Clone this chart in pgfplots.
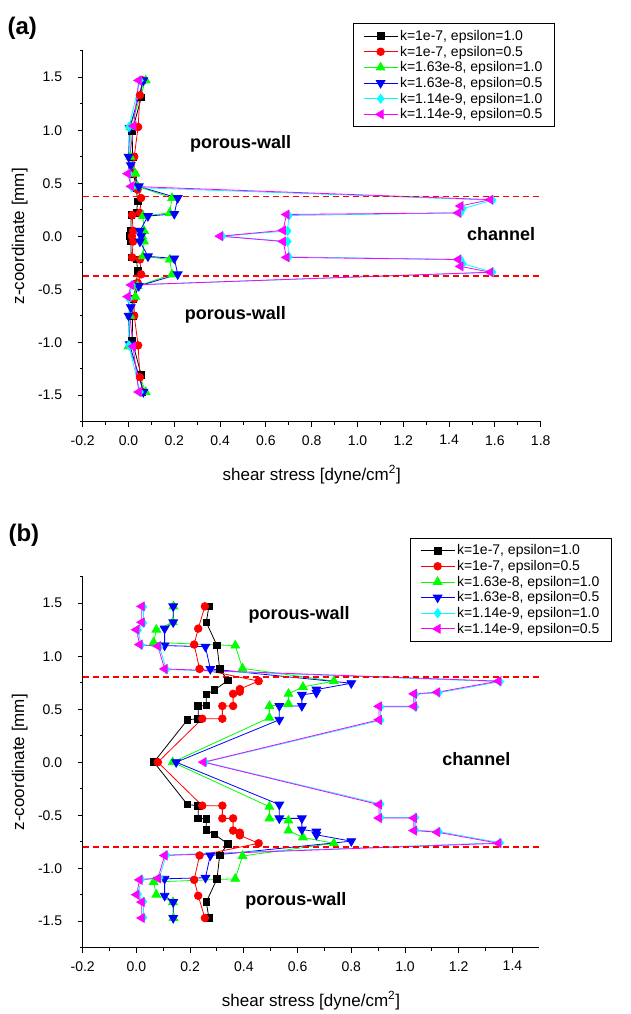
\documentclass[border=0pt]{standalone}
\usepackage{fontspec}
\setmainfont{Liberation Sans}
\usepackage{pgfplots}
\pgfplotsset{compat=1.18}
\definecolor{mgreen}{rgb}{0,1,0}
\definecolor{mblue}{rgb}{0,0,1}
\definecolor{mcyan}{rgb}{0,1,1}
\definecolor{mmag}{rgb}{1,0,1}
\definecolor{mred}{rgb}{1,0,0}
\pgfplotsset{
  myaxis/.style={
    scale only axis,
    axis lines=left,
    axis line style={-, line width=1.2pt},
    tick align=outside,
    major tick length=5pt, minor tick length=3pt,
    tick style={line width=1pt, black},
    ymin=-1.75, ymax=1.75,
    ytick={-1.5,-1,...,1.5},
    minor ytick={-1.75,-1.25,...,1.75},
    minor x tick num=1,
    /pgf/number format/assume math mode=true,
    /pgf/number format/fixed, /pgf/number format/fixed zerofill, /pgf/number format/precision=1,
    tick label style={font=\fontsize{14}{15}\selectfont},
    yticklabel style={xshift=-12pt},
    xticklabel style={yshift=-5pt},
    xlabel={shear stress [dyne/cm\textsuperscript{2}]},
    ylabel={z-coordinate [mm]},
    label style={font=\fontsize{17}{19}\selectfont},
    x label style={at={(axis description cs:0.5,0)}, anchor=center, yshift=-53pt},
    y label style={at={(axis description cs:0,0.5)}, anchor=center, yshift=63pt},
    legend cell align=left,
    legend style={font=\fontsize{14}{17.5}\selectfont, draw=black, line width=0.9pt, inner xsep=10pt, inner ysep=4.5pt},
    legend image code/.code={\draw[mark repeat=2,mark phase=2] plot coordinates {(0pt,0pt) (17pt,0pt) (34pt,0pt)};},
    clip=false,
  },
  refline/.style={draw=mred, color=mred, line width=1.8pt, dash pattern=on 6pt off 4pt, forget plot, mark=none},
  s1/.style={black, line width=0.8pt, mark=square*, mark size=3.3pt, mark options={solid, fill=black}},
  s2/.style={mred, line width=0.8pt, mark=*, mark size=3.8pt, mark options={solid, fill=mred}},
  s3/.style={mgreen, line width=0.8pt, mark=triangle*, mark size=5pt, mark options={solid, fill=mgreen}},
  s4/.style={mblue, line width=0.8pt, mark=triangle*, mark size=5pt, mark options={solid, fill=mblue, rotate=180}},
  s5/.style={mcyan, line width=0.8pt, mark=diamond*, mark size=4.5pt, mark options={solid, fill=mcyan}},
  s6/.style={mmag, line width=0.8pt, mark=triangle*, mark size=5pt, mark options={solid, fill=mmag, rotate=90}},
}
\begin{document}
\begin{tikzpicture}
\path[use as bounding box] (0pt,0pt) rectangle (630pt,1014pt);
\node[anchor=west, font=\bfseries\fontsize{24}{26}\selectfont] at (4pt,985.5pt) {(a)};
\node[anchor=west, font=\bfseries\fontsize{24}{26}\selectfont] at (5pt,479pt) {(b)};
% ---------------- panel (a)
\begin{axis}[myaxis, at={(82.7pt,592.3pt)}, anchor=south west, width=458pt, height=371pt,
  xmin=-0.2, xmax=1.8, xtick={-0.2,0,...,1.8},
  legend style={at={(1.031,0.794)}, anchor=south east}]
\addplot[s1] coordinates {(0.060,1.47) (0.056,1.31) (0.016,0.99) (0.018,0.75) (0.022,0.59) (0.034,0.45) (0.040,0.33) (0.035,0.22) (0.012,0.20) (0.010,0.05) (0.005,0.0) (0.010,-0.05) (0.012,-0.20) (0.035,-0.22) (0.040,-0.33) (0.034,-0.45) (0.022,-0.59) (0.018,-0.75) (0.016,-0.99) (0.056,-1.31) (0.060,-1.47)};
\addlegendentry{k=1e-7, epsilon=1.0}
\addplot[s2] coordinates {(0.062,1.47) (0.050,1.33) (0.042,1.03) (0.025,0.75) (0.025,0.59) (0.040,0.44) (0.055,0.36) (0.050,0.22) (0.016,0.20) (0.020,0.05) (0.015,0.0) (0.020,-0.05) (0.016,-0.20) (0.050,-0.22) (0.055,-0.36) (0.040,-0.44) (0.025,-0.59) (0.025,-0.75) (0.042,-1.03) (0.050,-1.33) (0.062,-1.47)};
\addlegendentry{k=1e-7, epsilon=0.5}
\addplot[s3] coordinates {(0.075,1.47) (0.008,1.03) (0.008,0.75) (0.030,0.59) (0.040,0.47) (0.190,0.36) (0.180,0.22) (0.063,0.19) (0.068,0.05) (0.060,0.0) (0.068,-0.05) (0.063,-0.19) (0.180,-0.22) (0.190,-0.36) (0.040,-0.47) (0.030,-0.57) (0.008,-0.75) (0.000,-1.04) (0.075,-1.47)};
\addlegendentry{k=1.63e-8, epsilon=1.0}
\addplot[s4] coordinates {(0.065,1.47) (0.005,1.02) (0.000,0.75) (0.010,0.67) (0.045,0.47) (0.215,0.36) (0.200,0.21) (0.085,0.19) (0.050,0.05) (0.055,0.0) (0.050,-0.05) (0.085,-0.19) (0.200,-0.21) (0.215,-0.36) (0.045,-0.47) (0.010,-0.67) (0.000,-0.75) (0.005,-1.02) (0.065,-1.47)};
\addlegendentry{k=1.63e-8, epsilon=0.5}
\addplot[s5] coordinates {(0.050,1.47) (0.002,1.03) (0.002,0.59) (0.015,0.46) (1.590,0.34) (1.460,0.26) (1.450,0.22) (0.700,0.195) (0.695,0.05) (0.410,0.0) (0.695,-0.05) (0.700,-0.195) (1.450,-0.22) (1.460,-0.26) (1.590,-0.34) (0.015,-0.46) (0.002,-0.59) (0.002,-1.03) (0.050,-1.47)};
\addlegendentry{k=1.14e-9, epsilon=1.0}
\addplot[s6] coordinates {(0.045,1.47) (0.022,1.04) (-0.003,0.59) (0.012,0.47) (1.580,0.345) (1.450,0.285) (1.440,0.22) (0.690,0.205) (0.675,0.055) (0.400,0.0) (0.675,-0.05) (0.690,-0.20) (1.440,-0.22) (1.450,-0.285) (1.580,-0.34) (0.012,-0.46) (-0.003,-0.57) (0.020,-1.04) (0.045,-1.47)};
\addlegendentry{k=1.14e-9, epsilon=0.5}
\addplot[refline] coordinates {(-0.2,0.375) (1.8,0.375)};
\addplot[refline] coordinates {(-0.2,-0.375) (1.8,-0.375)};
\node[font=\bfseries\fontsize{18}{20}\selectfont] at (axis cs:0.49,0.875) {porous-wall};
\node[font=\bfseries\fontsize{18}{20}\selectfont] at (axis cs:0.467,-0.745) {porous-wall};
\node[font=\bfseries\fontsize{18}{20}\selectfont] at (axis cs:1.627,0.016) {channel};
\end{axis}
% ---------------- panel (b)
\begin{axis}[myaxis, at={(82.7pt,66.3pt)}, anchor=south west, width=456.6pt, height=371pt,
  xmin=-0.2, xmax=1.5, xtick={-0.2,0,...,1.4},
  legend style={at={(1.159,0.825)}, anchor=south east}]
\addplot[s1] coordinates {(0.27,1.47) (0.26,1.32) (0.30,1.10) (0.31,0.88) (0.34,0.77) (0.29,0.68) (0.26,0.64) (0.26,0.535) (0.23,0.53) (0.23,0.41) (0.19,0.40) (0.065,0.0) (0.19,-0.40) (0.23,-0.41) (0.23,-0.53) (0.26,-0.535) (0.26,-0.64) (0.29,-0.68) (0.34,-0.77) (0.31,-0.88) (0.30,-1.10) (0.26,-1.32) (0.27,-1.47)};
\addlegendentry{k=1e-7, epsilon=1.0}
\addplot[s2] coordinates {(0.255,1.47) (0.23,1.26) (0.215,1.11) (0.235,0.88) (0.455,0.765) (0.385,0.69) (0.385,0.665) (0.36,0.645) (0.36,0.53) (0.32,0.53) (0.32,0.41) (0.245,0.41) (0.08,0.0) (0.245,-0.41) (0.32,-0.41) (0.32,-0.53) (0.36,-0.53) (0.36,-0.645) (0.385,-0.665) (0.385,-0.69) (0.455,-0.765) (0.235,-0.88) (0.215,-1.11) (0.23,-1.26) (0.255,-1.47)};
\addlegendentry{k=1e-7, epsilon=0.5}
\addplot[s3] coordinates {(0.138,1.47) (0.136,1.32) (0.074,1.25) (0.064,1.13) (0.368,1.10) (0.395,0.885) (0.735,0.765) (0.62,0.71) (0.566,0.645) (0.566,0.55) (0.495,0.53) (0.495,0.42) (0.135,0.0) (0.495,-0.42) (0.495,-0.53) (0.566,-0.55) (0.566,-0.645) (0.62,-0.71) (0.735,-0.765) (0.395,-0.885) (0.368,-1.10) (0.064,-1.13) (0.074,-1.25) (0.136,-1.32) (0.138,-1.47)};
\addlegendentry{k=1.63e-8, epsilon=1.0}
\addplot[s4] coordinates {(0.137,1.47) (0.137,1.32) (0.105,1.26) (0.105,1.10) (0.257,1.09) (0.275,0.88) (0.80,0.745) (0.67,0.685) (0.67,0.655) (0.616,0.635) (0.616,0.53) (0.532,0.53) (0.532,0.40) (0.148,0.0) (0.532,-0.40) (0.532,-0.53) (0.616,-0.53) (0.616,-0.635) (0.67,-0.655) (0.67,-0.685) (0.80,-0.745) (0.275,-0.88) (0.257,-1.09) (0.105,-1.10) (0.105,-1.26) (0.137,-1.32) (0.137,-1.47)};
\addlegendentry{k=1.63e-8, epsilon=0.5}
\addplot[s5] coordinates {(0.026,1.465) (0.026,1.315) (0.006,1.245) (0.018,1.105) (0.086,1.09) (0.111,0.875) (1.354,0.76) (1.126,0.655) (1.039,0.64) (1.039,0.522) (0.909,0.522) (0.909,0.395) (0.256,0.0) (0.909,-0.395) (0.909,-0.522) (1.039,-0.522) (1.039,-0.64) (1.126,-0.655) (1.354,-0.76) (0.111,-0.875) (0.086,-1.09) (0.018,-1.105) (0.006,-1.245) (0.026,-1.315) (0.026,-1.465)};
\addlegendentry{k=1.14e-9, epsilon=1.0}
\addplot[s6] coordinates {(0.020,1.47) (0.020,1.32) (0.000,1.25) (0.012,1.11) (0.080,1.095) (0.105,0.88) (1.348,0.765) (1.12,0.66) (1.033,0.645) (1.033,0.527) (0.903,0.527) (0.903,0.40) (0.25,0.0) (0.903,-0.40) (0.903,-0.527) (1.033,-0.527) (1.033,-0.645) (1.12,-0.66) (1.348,-0.765) (0.105,-0.88) (0.080,-1.095) (0.012,-1.11) (0.000,-1.25) (0.020,-1.32) (0.020,-1.47)};
\addlegendentry{k=1.14e-9, epsilon=0.5}
\addplot[refline] coordinates {(-0.2,0.8) (1.5,0.8)};
\addplot[refline] coordinates {(-0.2,-0.8) (1.5,-0.8)};
\node[font=\bfseries\fontsize{18}{20}\selectfont] at (axis cs:0.606,1.387) {porous-wall};
\node[font=\bfseries\fontsize{18}{20}\selectfont] at (axis cs:0.594,-1.307) {porous-wall};
\node[font=\bfseries\fontsize{18}{20}\selectfont] at (axis cs:1.266,0.03) {channel};
\end{axis}
\end{tikzpicture}
\end{document}
